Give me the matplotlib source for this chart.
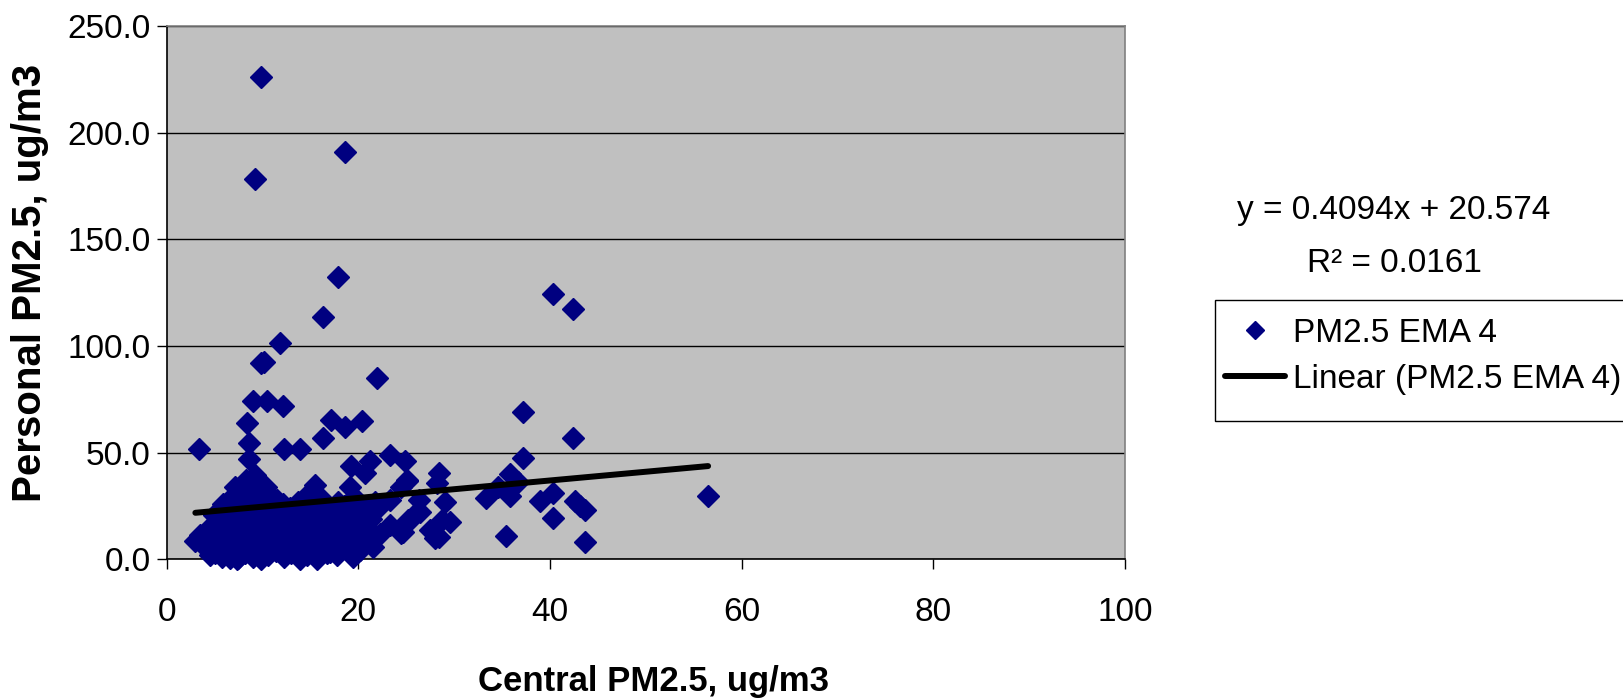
import matplotlib
matplotlib.use("Agg")
import matplotlib.pyplot as plt
from matplotlib.lines import Line2D
from matplotlib.patches import Rectangle

plt.rcParams['font.family'] = ['Liberation Sans', 'DejaVu Sans']

# high readings
high_x = [9.9, 18.6, 9.2, 17.9, 16.3, 11.8, 9.8, 10.2, 22.0, 40.3, 42.4]
high_y = [225.9, 190.8, 178.4, 132.5, 113.7, 101.5, 92.0, 92.4, 85.0, 124.4, 117.5]

# 45-75 ug/m3 band
mid_x = [9.0, 10.5, 12.1, 8.4, 17.2, 18.6, 20.4, 16.3, 8.6, 8.6, 12.3, 13.9, 3.4,
         37.2, 42.4, 37.2, 23.3, 24.9, 21.2]
mid_y = [74.4, 74.4, 71.9, 63.7, 65.3, 62.2, 65.0, 56.7, 54.5, 47.0, 51.5, 51.5, 51.5,
         68.9, 57.0, 47.3, 48.9, 46.1, 46.2]

# right-hand scatter
right_x = [35.8, 36.7, 34.6, 35.8, 33.3, 39.0, 40.3, 40.3, 42.6, 43.1, 43.7, 35.4,
           43.7, 56.5, 19.2, 20.7, 25.1, 28.4, 28.2, 29.1, 24.5, 25.1, 28.4, 29.6]
right_y = [40.0, 36.4, 34.0, 29.7, 28.6, 27.5, 31.2, 19.2, 27.5, 25.0, 23.1, 11.0,
           8.3, 29.8, 43.7, 40.3, 36.8, 40.3, 35.6, 27.0, 34.0, 37.2, 10.6, 17.6]

# 17-30 ug/m3 central
edge_x = [23.3, 26.3, 23.3, 24.5, 25.2, 26.4, 28.7, 27.5, 28.0, 21.2, 20.7, 21.2,
          18.8, 20.2, 17.1, 20.9, 20.2, 24.7, 26.1, 25.4, 20.5, 21.2, 18.4, 16.7,
          17.2, 19.1, 15.5]
edge_y = [27.8, 27.8, 16.1, 12.2, 18.4, 22.3, 18.4, 13.8, 9.8, 23.1, 16.9, 13.8,
          9.0, 4.3, 3.2, 10.6, 5.9, 13.0, 22.3, 18.4, 16.9, 21.5, 10.6, 2.8,
          5.9, 34.0, 34.8]

# low central, left edge
low_x = [3.5, 4.4, 4.0, 4.5, 3.0, 5.9, 6.4, 7.1, 8.3, 9.2, 10.4, 10.4, 6.6, 7.3,
         9.9, 13.9, 15.7]
low_y = [11.4, 14.5, 6.0, 2.0, 8.5, 24.0, 6.0, 34.0, 37.2, 39.5, 34.0, 31.9, 0.5,
         0.0, 0.0, 0.0, 0.0]

# dense cluster
cluster_x = [5.1, 4.8, 5.3, 4.9,
             5.8, 6.0, 5.6, 5.9,
             6.7, 6.5, 6.9, 6.6, 6.8,
             7.5, 7.3, 7.7, 7.4, 7.6, 7.5,
             8.2, 8.0, 8.4, 8.1, 8.3, 8.2,
             9.0, 8.8, 9.2, 9.1, 8.9, 9.0,
             9.8, 9.6, 10.0, 9.7, 9.9,
             10.6, 10.8, 10.5, 10.7, 10.6,
             11.4, 11.2, 11.6, 11.3, 11.5,
             12.2, 12.4, 12.0, 12.3, 12.1,
             13.0, 12.8, 13.2, 13.1, 12.9,
             13.8, 13.6, 14.0, 13.7,
             14.6, 14.4, 14.8, 14.5, 14.7, 14.6,
             15.4, 15.2, 15.6, 15.3,
             16.2, 16.0, 16.4, 16.1, 16.3,
             17.0, 16.8, 17.2, 17.1,
             17.8, 17.6, 18.0, 17.7, 17.9,
             18.6, 18.4, 18.8, 18.5,
             19.5, 19.3, 19.7, 19.4, 19.6,
             20.3, 20.1,
             21.5, 21.3, 21.7,
             22.3, 22.1]
cluster_y = [3, 9, 17, 21,
             1, 12, 19, 26,
             4, 8, 15, 22, 29,
             0.5, 10, 13, 18, 25, 31,
             3, 7, 16, 20, 27, 33,
             1, 11, 14, 23, 30, 35,
             5, 9, 18, 26, 29,
             2, 8, 13, 21, 24,
             4, 10, 16, 19, 28,
             1, 6, 12, 22, 26,
             3, 9, 15, 18, 24,
             7, 11, 20, 27,
             2, 5, 14, 17, 23, 30,
             8, 12, 19, 25,
             4, 10, 16, 21, 28,
             7, 13, 18, 24,
             2, 11, 15, 22, 27,
             6, 14, 19, 25,
             1, 12, 17, 21, 29,
             8, 26,
             6, 19, 27,
             12, 24]

slope = 0.4094
intercept = 20.574
r_squared = 0.0161

central_pm = high_x + mid_x + right_x + edge_x + low_x + cluster_x
personal_pm = high_y + mid_y + right_y + edge_y + low_y + cluster_y

W, H = 1623, 699
fig = plt.figure(figsize=(W / 100, H / 100), dpi=100)
fig.patch.set_facecolor('white')
ax = fig.add_axes([166.6 / W, 1 - 559.3 / H, 958.4 / W, 533.3 / H])
ax.set_facecolor('#C0C0C0')

navy = '#000080'
ax.plot(central_pm, personal_pm, linestyle='none', marker='D', ms=11.5,
        mfc=navy, mec=navy, clip_on=False, zorder=3)

# trend line over the range of the data
x0, x1 = min(central_pm), max(central_pm)
ax.plot([x0, x1], [slope * x0 + intercept, slope * x1 + intercept],
        color='black', lw=4.3, solid_capstyle='round', zorder=4)

ax.set_xlim(0, 100)
ax.set_ylim(0, 250)
ax.set_xticks(range(0, 101, 20))
ax.set_yticks(range(0, 251, 50))
ax.set_yticklabels(['%.1f' % v for v in range(0, 251, 50)])
ax.yaxis.grid(True, color='black', lw=1.0)
ax.set_axisbelow(True)
ax.tick_params(axis='both', direction='out', length=7.5, width=1, labelsize=24, colors='black')
ax.tick_params(axis='y', pad=4)
ax.tick_params(axis='x', pad=20)

for s in ['left', 'bottom']:
    ax.spines[s].set_color('black')
    ax.spines[s].set_linewidth(1.2)
for s in ['top', 'right']:
    ax.spines[s].set_color('#808080')
    ax.spines[s].set_linewidth(1.2)

fig.text(653 / W, 1 - 681 / H, 'Central PM2.5, ug/m3', ha='center', va='center',
         fontsize=25, fontweight='bold')
fig.text(30 / W, 1 - 283 / H, 'Personal PM2.5, ug/m3', ha='center', va='center',
         rotation=90, fontsize=29, fontweight='bold')

fig.text(1394 / W, 1 - 210 / H, 'y = %.4fx + %.3f' % (slope, intercept),
         ha='center', va='center', fontsize=24)
fig.text(1394 / W, 1 - 263 / H, 'R² = %.4f' % r_squared,
         ha='center', va='center', fontsize=24)

# legend box runs off the right edge
fig.patches.append(Rectangle((1215 / W, 1 - 421 / H), 500 / W, 121 / H,
                             transform=fig.transFigure, facecolor='white',
                             edgecolor='black', lw=1.0, zorder=1))

handles = [Line2D([], [], linestyle='none', marker='D', ms=9, mfc=navy, mec=navy),
           Line2D([], [], color='black', lw=4.3, solid_capstyle='round')]
leg = fig.legend(handles, ['PM2.5 EMA 4', 'Linear (PM2.5 EMA 4)'],
                 loc='upper left', bbox_to_anchor=(1215 / W, 1 - 308 / H),
                 bbox_transform=fig.transFigure, borderaxespad=0,
                 frameon=False, fontsize=24, handlelength=1.8, handletextpad=0.25,
                 borderpad=0.3, labelspacing=0.45, numpoints=1)
leg.set_zorder(5)

fig.savefig('out.png', dpi=100)
